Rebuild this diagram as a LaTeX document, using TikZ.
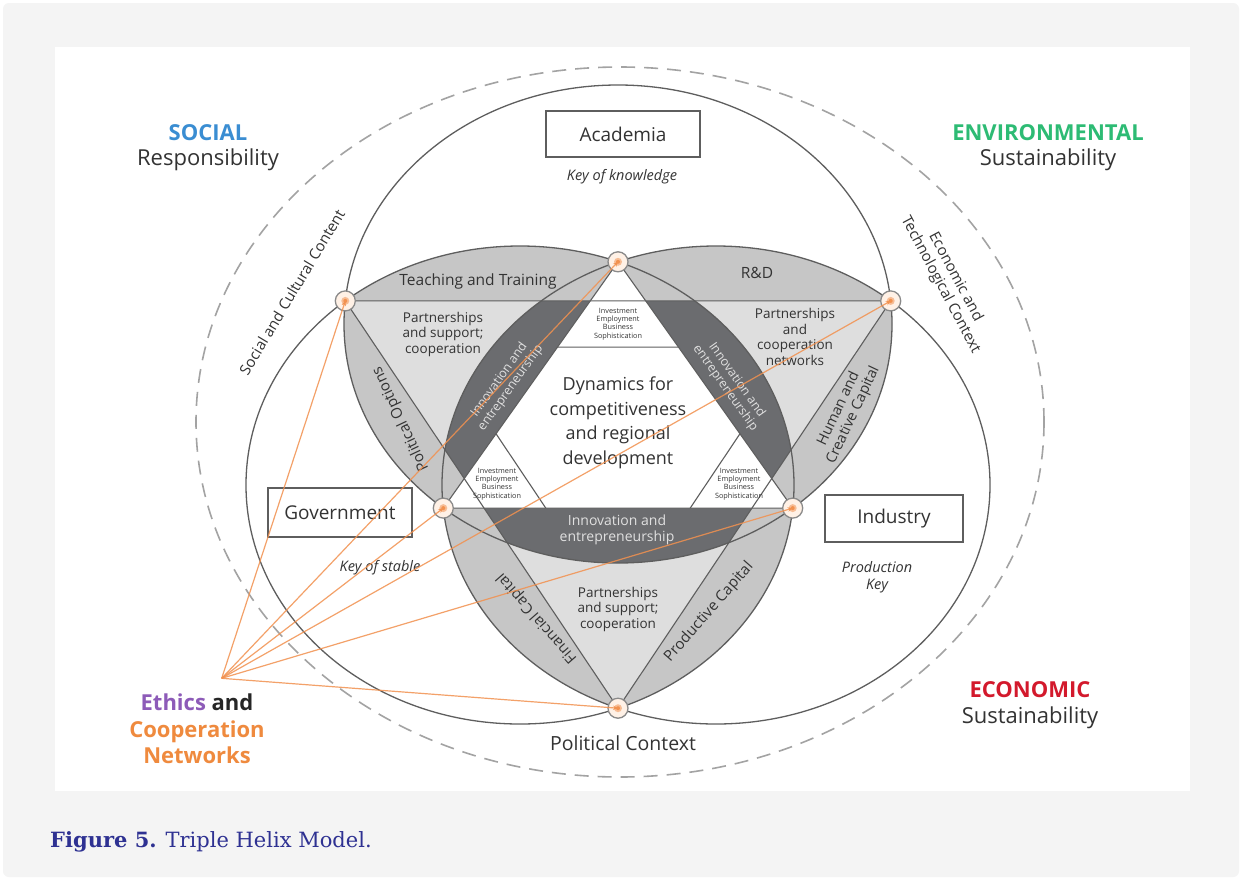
\documentclass[tikz,border=0pt]{standalone}
\usepackage{fontspec}
\setmainfont{Open Sans}
\newfontfamily\capfont{DejaVu Serif}
\usetikzlibrary{arrows.meta}
\definecolor{cardbg}{HTML}{F4F4F4}
\definecolor{midgrey}{HTML}{C6C6C6}
\definecolor{lightgrey}{HTML}{DEDEDE}
\definecolor{darkband}{HTML}{6B6C6F}
\definecolor{linegrey}{HTML}{5E5E5E}
\definecolor{dashgrey}{HTML}{A3A3A3}
\definecolor{hubgrey}{HTML}{8A8A8A}
\definecolor{hubfill}{HTML}{FFF1E6}
\definecolor{orangeline}{HTML}{F2914F}
\definecolor{socialblue}{HTML}{3A8DD2}
\definecolor{envgreen}{HTML}{2DBB74}
\definecolor{econred}{HTML}{D3192C}
\definecolor{ethicspurple}{HTML}{8D5BB8}
\definecolor{coopor}{HTML}{EF8A3E}
\definecolor{capnavy}{HTML}{2E3192}
\definecolor{textgrey}{HTML}{333333}
\tikzset{
  ellline/.style={draw=linegrey, line width=1.3pt},
  triline/.style={draw=linegrey, line width=1.1pt},
  boxnode/.style={draw=linegrey, line width=1.3pt, fill=white, inner sep=0pt, font=\fontsize{19}{22}\selectfont, text=textgrey},
  hub/.style={circle, draw=hubgrey, fill=hubfill, minimum size=20pt, inner sep=0pt, line width=1.3pt,
    path picture={\fill[orangeline!60] (path picture bounding box.center) circle[radius=4pt];
                  \fill[orangeline] (path picture bounding box.center) circle[radius=2pt];}},
  orangeconn/.style={draw=orangeline, line width=1.2pt, draw opacity=0.85, -{Stealth[length=5pt,width=4.5pt]}},
  bandtext/.style={text=textgrey, font=\fontsize{13.5}{15.5}\selectfont, align=center, inner sep=0pt},
  captext/.style={text=textgrey, font=\fontsize{15}{16.5}\selectfont, align=center, inner sep=0pt},
  darktext/.style={text=white!88!black, font=\fontsize{12.5}{14}\selectfont, align=center, inner sep=0pt},
  tinytext/.style={text=textgrey, font=\fontsize{7.3}{8.4}\selectfont, align=center, inner sep=0pt},
  keytext/.style={text=textgrey, font=\itshape\fontsize{14.5}{16.5}\selectfont, align=center, inner sep=0pt},
  bigtext/.style={font=\fontsize{22}{26}\selectfont, align=center, inner sep=0pt},
  ctxtext/.style={text=textgrey, font=\fontsize{15}{17}\selectfont, align=center, inner sep=0pt},
}
\begin{document}
\begin{tikzpicture}[x=1pt,y=-1pt]
\useasboundingbox (0,0) rectangle (1242,879);
\fill[white] (0,0) rectangle (1242,879);
\fill[cardbg, rounded corners=6pt] (3,3) rectangle (1239,877);
\fill[white] (55,47) rectangle (1190,791);
% geometry
\coordinate (cA) at (618,324);
\coordinate (cG) at (520,485);
\coordinate (cI) at (716,485);
\coordinate (P1) at (345.3,300.9);
\coordinate (P2) at (890.7,300.9);
\coordinate (P3) at (618,708.2);
\coordinate (Q1) at (618,261.8);
\coordinate (Q2) at (443.3,508.1);
\coordinate (Q3) at (792.7,508.1);
\coordinate (E) at (221.7,678.3);
% outer dashed ellipse
\draw[dashgrey, line width=1.6pt, dash pattern=on 14pt off 9pt] (620,422) ellipse[x radius=424pt, y radius=355pt];
% pairwise overlaps
\begin{scope}
\clip (cA) ellipse[x radius=274pt, y radius=239pt];
\fill[midgrey] (cG) ellipse[x radius=274pt, y radius=239pt];
\fill[midgrey] (cI) ellipse[x radius=274pt, y radius=239pt];
\end{scope}
\begin{scope}
\clip (cG) ellipse[x radius=274pt, y radius=239pt];
\fill[midgrey] (cI) ellipse[x radius=274pt, y radius=239pt];
\end{scope}
% down triangle
\fill[lightgrey] (P1) -- (P2) -- (P3) -- cycle;
% dark bands: triple overlap inside down triangle
\begin{scope}
\clip (P1) -- (P2) -- (P3) -- cycle;
\clip (cA) ellipse[x radius=274pt, y radius=239pt];
\clip (cG) ellipse[x radius=274pt, y radius=239pt];
\fill[darkband] (cI) ellipse[x radius=274pt, y radius=239pt];
\end{scope}
% up triangle
\fill[white] (Q1) -- (Q2) -- (Q3) -- cycle;
\begin{scope}
\clip (Q1) -- (Q2) -- (Q3) -- cycle;
\draw[triline] (438,347.1) -- (798,347.1) -- (618,615.9) -- cycle;
\end{scope}
\draw[triline] (P1) -- (P2) -- (P3) -- cycle;
\draw[triline] (Q1) -- (Q2) -- (Q3) -- cycle;
% ellipses
\draw[ellline] (cA) ellipse[x radius=274pt, y radius=239pt];
\draw[ellline] (cG) ellipse[x radius=274pt, y radius=239pt];
\draw[ellline] (cI) ellipse[x radius=274pt, y radius=239pt];
% corner labels
\node[bigtext, text=socialblue, font=\bfseries\fontsize{22}{26}\selectfont] (soc1) at (208,133) {SOCIAL};
\node[bigtext, text=textgrey] (soc2) at (208,160) {Responsibility};
\node[bigtext, text=envgreen, font=\bfseries\fontsize{22}{26}\selectfont] (env1) at (1048,133) {ENVIRONMENTAL};
\node[bigtext, text=textgrey] (env2) at (1048,160) {Sustainability};
\node[bigtext, text=econred, font=\bfseries\fontsize{22}{26}\selectfont] (eco1) at (1030,690) {ECONOMIC};
\node[bigtext, text=textgrey] (eco2) at (1030,718) {Sustainability};
\node[bigtext, font=\bfseries\fontsize{22}{26.5}\selectfont] (eth) at (197,729)
  {\textcolor{ethicspurple}{Ethics} \textcolor{black!85}{and}\\\textcolor{coopor}{Cooperation}\\\textcolor{coopor}{Networks}};
% boxes
\node[boxnode, minimum width=154pt, minimum height=46pt] (acad) at (623,134) {Academia};
\node[keytext] (kknow) at (622,177) {Key of knowledge};
\node[boxnode, minimum width=144pt, minimum height=49pt] (gov) at (340,512.5) {Government};
\node[keytext] (kstab) at (380,568) {Key of stable};
\node[boxnode, minimum width=138pt, minimum height=47pt] (ind) at (894,518.5) {Industry};
\node[keytext] (pkey) at (877,577) {Production\\Key};
\node[text=textgrey, font=\fontsize{19.5}{22}\selectfont, inner sep=0pt] (polctx) at (623,743) {Political Context};
\node[ctxtext, rotate=59] (socctx) at (292,292) {Social and Cultural Content};
\node[ctxtext, rotate=-62] (ecoctx) at (948,281) {Economic and\\Technological Context};
% inner labels
\node[bandtext, font=\fontsize{15.5}{17}\selectfont] (teach) at (478,281) {Teaching and Training};
\node[bandtext, font=\fontsize{15.5}{17}\selectfont] (rd) at (757,273) {R\&D};
\node[bandtext] (ptl) at (443,334) {Partnerships\\and support;\\cooperation};
\node[bandtext] (ptr) at (795,337) {Partnerships\\and\\cooperation\\networks};
\node[bandtext] (pb) at (618,609) {Partnerships\\and support;\\cooperation};
\node[text=textgrey, font=\fontsize{18}{24.5}\selectfont, align=center, inner sep=0pt] (dyn) at (618,423)
  {Dynamics for\\competitiveness\\and regional\\development};
\node[darktext, rotate=54.6] (innl) at (505,384) {Innovation and\\entrepreneurship};
\node[darktext, rotate=-54.6] (innr) at (731,384) {Innovation and\\entrepreneurship};
\node[darktext, font=\fontsize{14}{15.5}\selectfont] (innb) at (617,530) {Innovation and\\entrepreneurship};
\node[captext, rotate=115.3] (polopt) at (401,419) {Political Options};
\node[captext, rotate=131.2] (fincap) at (537,618) {Financial Capital};
\node[captext, rotate=48.8] (prodcap) at (709,612) {Productive Capital};
\node[captext, font=\fontsize{14.5}{16}\selectfont, rotate=64.7] (humcap) at (846,412) {Human and\\Creative Capital};
\node[tinytext] (inv1) at (618,324) {Investment\\Employment\\Business\\Sophistication};
\node[tinytext] (inv2) at (497,484) {Investment\\Employment\\Business\\Sophistication};
\node[tinytext] (inv3) at (739,484) {Investment\\Employment\\Business\\Sophistication};
% hubs
\node[hub] (h1) at (P1) {};
\node[hub] (h2) at (P2) {};
\node[hub] (h3) at (P3) {};
\node[hub] (h4) at (Q1) {};
\node[hub] (h5) at (Q2) {};
\node[hub] (h6) at (Q3) {};
% orange connectors
\foreach \h in {h1,h2,h3,h4,h5,h6}
  \draw[orangeconn] (E) -- (\h.center);
% caption
\node[anchor=base west, inner sep=0pt, text=capnavy, font=\capfont\fontsize{21}{25}\selectfont] (cap) at (50,847)
  {\textbf{Figure 5.} Triple Helix Model.};
\end{tikzpicture}
\end{document}
